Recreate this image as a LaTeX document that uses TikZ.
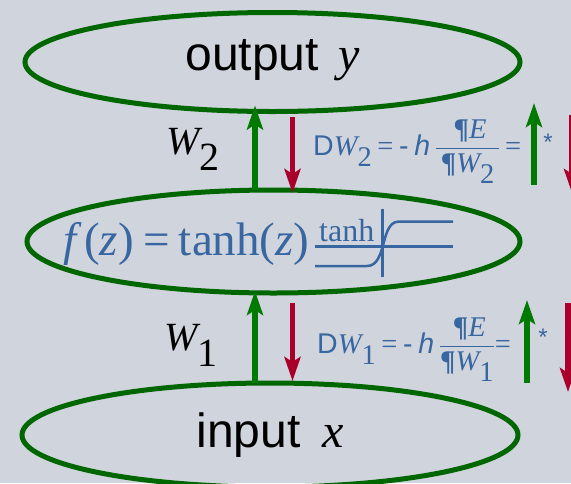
\documentclass[tikz,border=0pt]{standalone}
\usepackage{amsmath}
\usepackage{fontspec}
\setmainfont{Liberation Serif}
\setsansfont{Liberation Sans}
\usetikzlibrary{shapes.geometric,arrows.meta}

\definecolor{slateBg}{RGB}{208,212,220}
\definecolor{leafGreen}{RGB}{0,102,0}
\definecolor{arrowGreen}{RGB}{0,122,0}
\definecolor{berryRed}{RGB}{168,0,42}
\definecolor{inkBlue}{RGB}{55,102,160}

\newcommand{\lowsub}[1]{\raisebox{-0.4em}{#1}}

\tikzset{
  layer/.style={ellipse, draw=leafGreen, line width=5pt, inner sep=0pt, outer sep=0pt},
  flowhead/.style={-{Stealth[length=24pt,width=16pt,inset=5pt]}},
  upflow/.style={flowhead, draw=arrowGreen, line width=5.5pt},
  downflow/.style={flowhead, draw=berryRed, line width=5.5pt},
  bigtext/.style={font=\fontsize{48}{56}\selectfont},
  weight/.style={anchor=base west, font=\fontsize{40}{48}\selectfont\itshape},
  eqn/.style={anchor=base west, text=inkBlue, inner sep=0pt, font=\fontsize{28.5}{32}\selectfont},
  star/.style={text=inkBlue, inner sep=0pt, font=\fontsize{24}{26}\selectfont\sffamily}
}

\begin{document}
\begin{tikzpicture}[x=1pt,y=-1pt]
    \useasboundingbox (0,0) rectangle (571,483);
    \fill[slateBg] (0,0) rectangle (571,483);
    \clip (0,0) rectangle (571,483);

    % the three layers
    \node[layer, bigtext, minimum width=495pt, minimum height=99pt, text height=37pt, text depth=21pt] (out) at (272.5,62) {\sffamily output\hspace{0.4em}{\rmfamily\itshape y}};
    \node[layer, minimum width=493pt, minimum height=103pt] (hid) at (273.5,241.5) {};
    \node[layer, bigtext, minimum width=496pt, minimum height=104pt] (inp) at (270,435) {\sffamily input\hspace{0.45em}{\rmfamily\itshape x}};

    % hidden unit
    \node[anchor=base west, inner sep=0pt, text=inkBlue, font=\fontsize{47}{54}\selectfont] (fz) at (63,255) {{\itshape f}\,({\itshape z})\hspace{0.2em}=\hspace{0.2em}tanh({\itshape z})};
    \node[anchor=base west, inner sep=0pt, text=inkBlue, font=\fontsize{32}{38}\selectfont] (tanhlbl) at (319,241) {tanh};
    \draw[inkBlue, line width=2.5pt] (315,246.7) -- (453,246.7);
    \draw[inkBlue, line width=2.5pt] (382.7,209) -- (382.7,277);
    \draw[inkBlue, line width=2.5pt] (315,266) -- (367,266) .. controls (377,266) and (380,255) .. (382.7,246.7) .. controls (385,238) and (388,221.7) .. (398,221.7) -- (453,221.7);

    % weights
    \node[weight] (wtwo) at (163,154) {W\lowsub{\upshape 2}};
    \node[weight] (wone) at (161,350) {W\lowsub{\upshape 1}};

    \draw[upflow] ([xshift=-18.5pt]hid.north) -- ([xshift=-17.5pt,yshift=6pt]out.south);
    \draw[downflow] ([xshift=20pt,yshift=-5.5pt]out.south) -- ([xshift=19pt,yshift=-3pt]hid.north);
    \draw[upflow] ([xshift=-15pt]inp.north) -- ([xshift=-18.5pt,yshift=2pt]hid.south);
    \draw[downflow] ([xshift=19pt,yshift=-10pt]hid.south) -- ([xshift=22.5pt,yshift=2pt]inp.north);

    % weight updates
    \node[eqn] (dwtwo) at (313,155) {{\sffamily D}{\itshape W}\lowsub{2}\hspace{0.2em}=\hspace{0.2em}{\sffamily -}\hspace{0.2em}{\sffamily\itshape h}\,$\dfrac{\mbox{\,{\bfseries\P}\itshape E}}{\mbox{\,{\bfseries\P}\itshape W\lowsub{\upshape 2}\,}}$\,=};
    \node[eqn] (dwone) at (317,353) {{\sffamily D}{\itshape W}\lowsub{1}\hspace{0.2em}=\hspace{0.2em}{\sffamily -}\hspace{0.2em}{\sffamily\itshape h}\,$\dfrac{\mbox{\,{\bfseries\P}\itshape E}}{\mbox{{\bfseries\P}\itshape W\lowsub{\upshape 1}}}$=};
    \node[star] (startwo) at (548,142) {*};
    \node[star] (starone) at (543,337) {*};

    \coordinate (gtwoa) at (534,185);
    \coordinate (gtwob) at (534,103);
    \coordinate (rtwoa) at (572,115);
    \coordinate (rtwob) at (572,193);
    \coordinate (gonea) at (527,383);
    \coordinate (goneb) at (527,300);
    \coordinate (ronea) at (568,303);
    \coordinate (roneb) at (568,392);
    \draw[upflow] (gtwoa) -- (gtwob);
    \draw[downflow] (rtwoa) -- (rtwob);
    \draw[upflow] (gonea) -- (goneb);
    \draw[downflow] (ronea) -- (roneb);
\end{tikzpicture}
\end{document}
